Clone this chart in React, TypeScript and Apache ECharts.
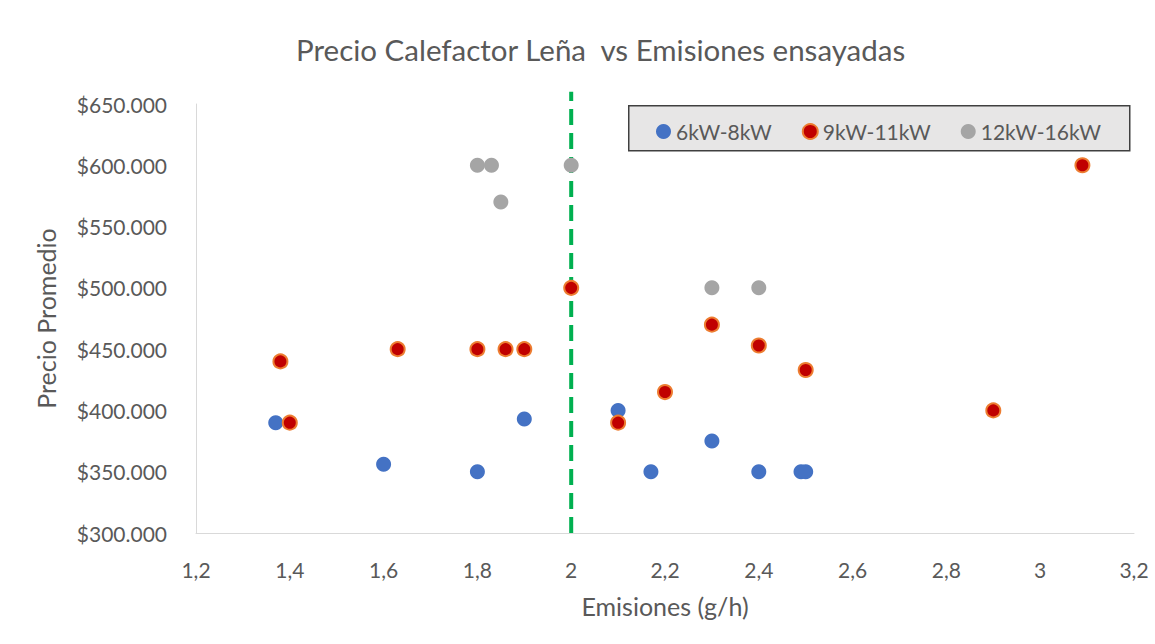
import React, { useEffect, useRef } from "react";
import * as echarts from "echarts";

const seriesNames = ["6kW-8kW", "9kW-11kW", "12kW-16kW"];

const blueData: [number, number][] = [
  [1.37, 390000], [1.6, 356000], [1.8, 350000], [1.9, 393000], [2.1, 400000],
  [2.17, 350000], [2.3, 375000], [2.4, 350000], [2.49, 350000], [2.5, 350000],
];

const redData: [number, number][] = [
  [1.38, 440000], [1.4, 390000], [1.63, 450000], [1.8, 450000], [1.86, 450000],
  [1.9, 450000], [2.0, 500000], [2.1, 390000], [2.2, 415000], [2.3, 470000],
  [2.4, 453000], [2.5, 433000], [2.9, 400000], [3.09, 600000],
];

const grayData: [number, number][] = [
  [1.8, 600000], [1.83, 600000], [1.85, 570000], [2.0, 600000], [2.3, 500000], [2.4, 500000],
];

const refLine: [number, number][] = [
  [2.0, 300000], [2.0, 660000],
];

const xTicks = { min: 1.2, max: 3.2, interval: 0.2 };
const yTicks = { min: 300000, max: 650000, interval: 50000 };

const FONT = "Lato, 'Open Sans', sans-serif";
const TXT = "#595959";

export default function App() {
  const ref = useRef<HTMLDivElement>(null);
  useEffect(() => {
    document.body.style.margin = "0";
    const chart = echarts.init(ref.current!, null, { renderer: "svg" });
    chart.setOption({
      animation: false,
      backgroundColor: "#ffffff",
      textStyle: { fontFamily: FONT },
      title: {
        text: "Precio Calefactor Leña  vs Emisiones ensayadas",
        left: 291,
        top: 29,
        textStyle: { fontFamily: FONT, fontSize: 29.5, fontWeight: "normal", color: TXT },
      },
      graphic: [
        {
          type: "rect",
          left: 628,
          top: 105,
          shape: { width: 501, height: 45 },
          style: { fill: "#e7e6e6", stroke: "#404040", lineWidth: 1.5 },
          z: 0,
        },
      ],
      legend: {
        left: 651,
        top: 116,
        itemGap: 30,
        itemWidth: 15,
        itemHeight: 15,
        data: seriesNames.map((n) => ({ name: n, icon: "circle" })),
        textStyle: { fontFamily: FONT, fontSize: 21, color: TXT, padding: [0, 0, 0, 0] },
        z: 5,
      },
      grid: { left: 196, right: 21, top: 104, bottom: 111 },
      xAxis: {
        type: "value",
        min: xTicks.min,
        max: xTicks.max,
        interval: xTicks.interval,
        name: "Emisiones (g/h)",
        nameLocation: "middle",
        nameGap: 60,
        nameTextStyle: { fontFamily: FONT, fontSize: 25, color: TXT },
        axisLine: { show: true, lineStyle: { color: "#d9d9d9", width: 1 } },
        axisTick: { show: false },
        splitLine: { show: false },
        axisLabel: {
          fontFamily: FONT,
          fontSize: 21,
          color: TXT,
          margin: 26,
          formatter: (v: number) => String(Math.round(v * 10) / 10).replace(".", ","),
        },
      },
      yAxis: {
        type: "value",
        min: yTicks.min,
        max: yTicks.max,
        interval: yTicks.interval,
        name: "Precio Promedio",
        nameLocation: "middle",
        nameGap: 138,
        nameTextStyle: { fontFamily: FONT, fontSize: 25, color: TXT },
        axisLine: { show: true, lineStyle: { color: "#d9d9d9", width: 1 } },
        axisTick: { show: false },
        splitLine: { show: false },
        axisLabel: {
          fontFamily: FONT,
          fontSize: 21,
          color: TXT,
          margin: 29,
          formatter: (v: number) => "$" + Math.round(v / 1000) + ".000",
        },
      },
      series: [
        {
          type: "line",
          data: refLine,
          symbol: "none",
          clip: false,
          silent: true,
          lineStyle: { color: "#00b050", width: 4, type: [16, 8] },
          z: 1,
        },
        {
          name: seriesNames[0],
          type: "scatter",
          data: blueData,
          symbol: "circle",
          symbolSize: 15,
          itemStyle: { color: "#4472c4", opacity: 1 },
          z: 3,
        },
        {
          name: seriesNames[1],
          type: "scatter",
          data: redData,
          symbol: "circle",
          symbolSize: 14,
          itemStyle: { color: "#c00000", borderColor: "#ed7d31", borderWidth: 2, opacity: 1 },
          z: 3,
        },
        {
          name: seriesNames[2],
          type: "scatter",
          data: grayData,
          symbol: "circle",
          symbolSize: 15,
          itemStyle: { color: "#a5a5a5", opacity: 1 },
          z: 3,
        },
      ],
    });
    return () => chart.dispose();
  }, []);
  return <div ref={ref} style={{ width: 1155, height: 644 }} />;
}
